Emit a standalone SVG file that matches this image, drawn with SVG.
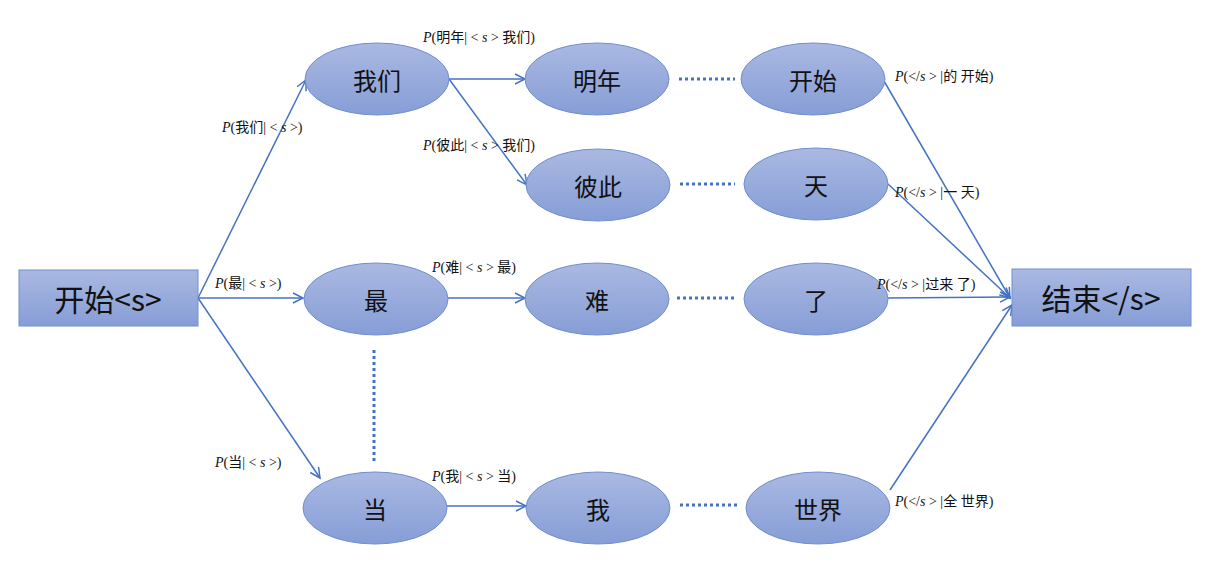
<svg xmlns="http://www.w3.org/2000/svg" width="1222" height="562" viewBox="0 0 1222 562">
<defs>
<linearGradient id="g" x1="0" y1="0" x2="0" y2="1"><stop offset="0" stop-color="#aab9e2"/><stop offset="1" stop-color="#869dd6"/></linearGradient>
<marker id="a" markerWidth="14" markerHeight="14" refX="11" refY="6" orient="auto" markerUnits="userSpaceOnUse"><path d="M1,1 L11,6 L1,11" fill="none" stroke="#4472c4" stroke-width="1.5"/></marker>
<style>
.n{fill:url(#g);stroke:#6f8fd0;stroke-width:1}
.t{font-family:"Noto Sans CJK SC",sans-serif;font-size:24px;fill:#111;text-anchor:middle;dominant-baseline:central}
.b{font-size:30px}
.e{stroke:#4472c4;stroke-width:1.5;fill:none}
.ar{marker-end:url(#a)}
.d{stroke:#4472c4;stroke-width:3;stroke-dasharray:3 3;fill:none}
.l{font-family:"Liberation Serif","Noto Sans CJK SC",serif;font-size:14px;fill:#111}
.l tspan.i{font-style:italic}
</style>
</defs>
<g id="connectors">
<line class="e ar" x1="198" y1="298" x2="306" y2="80"/>
<line class="e ar" x1="198" y1="298" x2="303" y2="298"/>
<line class="e ar" x1="198" y1="298" x2="320" y2="478"/>
<line class="e ar" x1="449" y1="79" x2="525" y2="79"/>
<line class="e ar" x1="449" y1="79" x2="527" y2="185"/>
<line class="e ar" x1="448" y1="298" x2="525" y2="298"/>
<line class="e ar" x1="447" y1="506" x2="526" y2="506"/>
<line class="d" x1="679" y1="79" x2="735" y2="79"/>
<line class="d" x1="680" y1="184" x2="735" y2="184"/>
<line class="d" x1="677" y1="298" x2="735" y2="298"/>
<line class="d" x1="680" y1="505" x2="737" y2="505"/>
<line class="d" x1="374" y1="350" x2="374" y2="462"/>
<line class="e ar" x1="884" y1="81" x2="1010" y2="298"/>
<line class="e ar" x1="888" y1="184" x2="1010" y2="298"/>
<line class="e ar" x1="888" y1="298" x2="1010" y2="297"/>
<line class="e ar" x1="890" y1="490" x2="1012" y2="305"/>
</g>
<g id="start"><rect class="n" x="19" y="270" width="179" height="56"/><text class="t b" x="108" y="298">开始&lt;s&gt;</text></g>
<g id="end"><rect class="n" x="1012" y="269" width="179" height="57"/><text class="t b" x="1101" y="297">结束&lt;/s&gt;</text></g>
<g id="women"><ellipse class="n" cx="377" cy="79" rx="72" ry="36"/><text class="t" x="377" y="79">我们</text></g>
<g id="mingnian"><ellipse class="n" cx="597" cy="79" rx="72" ry="36"/><text class="t" x="597" y="79">明年</text></g>
<g id="kaishi"><ellipse class="n" cx="813" cy="79" rx="72" ry="36"/><text class="t" x="813" y="79">开始</text></g>
<g id="bici"><ellipse class="n" cx="598" cy="185" rx="72" ry="36"/><text class="t" x="598" y="185">彼此</text></g>
<g id="tian"><ellipse class="n" cx="816" cy="184" rx="72" ry="36"/><text class="t" x="816" y="184">天</text></g>
<g id="zui"><ellipse class="n" cx="376" cy="299" rx="72" ry="36"/><text class="t" x="376" y="299">最</text></g>
<g id="nan"><ellipse class="n" cx="597" cy="299" rx="72" ry="36"/><text class="t" x="597" y="299">难</text></g>
<g id="le"><ellipse class="n" cx="816" cy="299" rx="72" ry="36"/><text class="t" x="816" y="299">了</text></g>
<g id="dang"><ellipse class="n" cx="375" cy="508" rx="72" ry="36"/><text class="t" x="375" y="508">当</text></g>
<g id="wo"><ellipse class="n" cx="598" cy="508" rx="72" ry="36"/><text class="t" x="598" y="508">我</text></g>
<g id="shijie"><ellipse class="n" cx="818" cy="508" rx="72" ry="36"/><text class="t" x="818" y="508">世界</text></g>
<g id="labels">
<text class="l" x="423" y="42"><tspan class="i">P</tspan>(明年| &lt; <tspan class="i">s</tspan> &gt; 我们)</text>
<text class="l" x="222" y="132"><tspan class="i">P</tspan>(我们| &lt; <tspan class="i">s</tspan> &gt;)</text>
<text class="l" x="423" y="150"><tspan class="i">P</tspan>(彼此| &lt; <tspan class="i">s</tspan> &gt; 我们)</text>
<text class="l" x="215" y="288"><tspan class="i">P</tspan>(最| &lt; <tspan class="i">s</tspan> &gt;)</text>
<text class="l" x="432" y="272"><tspan class="i">P</tspan>(难| &lt; <tspan class="i">s</tspan> &gt; 最)</text>
<text class="l" x="215" y="467"><tspan class="i">P</tspan>(当| &lt; <tspan class="i">s</tspan> &gt;)</text>
<text class="l" x="432" y="481"><tspan class="i">P</tspan>(我| &lt; <tspan class="i">s</tspan> &gt; 当)</text>
<text class="l" x="895" y="81"><tspan class="i">P</tspan>(&lt;/<tspan class="i">s</tspan> &gt; |的 开始)</text>
<text class="l" x="895" y="197"><tspan class="i">P</tspan>(&lt;/<tspan class="i">s</tspan> &gt; |一 天)</text>
<text class="l" x="877" y="289"><tspan class="i">P</tspan>(&lt;/<tspan class="i">s</tspan> &gt; |过来 了)</text>
<text class="l" x="895" y="506"><tspan class="i">P</tspan>(&lt;/<tspan class="i">s</tspan> &gt; |全 世界)</text>
</g>
</svg>
